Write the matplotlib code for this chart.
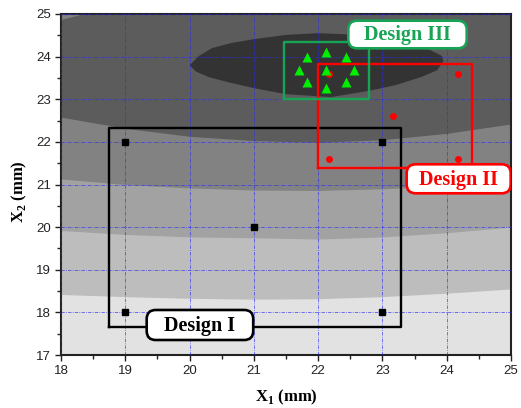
import matplotlib
matplotlib.use('Agg')
import matplotlib.pyplot as plt
from matplotlib.patches import Polygon, FancyBboxPatch
from matplotlib.ticker import MultipleLocator
import numpy as np

# contour band boundaries (X2 value at each X1)
band_x = [18, 19, 20, 21, 22, 23, 24, 25]
bound_a = [18.42, 18.37, 18.33, 18.31, 18.32, 18.37, 18.45, 18.55]
bound_b = [19.92, 19.83, 19.77, 19.75, 19.72, 19.77, 19.87, 20.00]
bound_c = [21.13, 21.00, 20.92, 20.87, 20.86, 20.90, 20.97, 21.07]
bound_d = [22.58, 22.32, 22.13, 22.03, 21.99, 22.05, 22.20, 22.42]
band_colors = ['#e2e2e2', '#bdbdbd', '#a2a2a2', '#828282', '#5c5c5c', '#333333']

# top-left corner region and the inner (optimum) contour
corner_x = [18.0, 18.0, 18.2, 18.37]
corner_y = [24.86, 25.0, 25.0, 25.0]
ell_x = [20.0, 20.15, 20.35, 20.65, 21.0, 21.5, 22.0, 22.5, 22.95, 23.4, 23.75, 23.92,
         23.95, 23.85, 23.6, 23.2, 22.8, 22.2, 21.5, 21.0, 20.6, 20.3, 20.1]
ell_y = [23.8, 24.02, 24.2, 24.32, 24.41, 24.51, 24.55, 24.52, 24.43, 24.3, 24.15, 24.02,
         23.9, 23.68, 23.52, 23.33, 23.2, 23.05, 23.12, 23.26, 23.4, 23.52, 23.65]

# design points
d1_x = [19, 23, 21, 19, 23]
d1_y = [22, 22, 20, 18, 18]
d2_x = [22.17, 24.17, 23.17, 22.17, 24.17]
d2_y = [23.6, 23.6, 22.6, 21.6, 21.6]
d3_x = [22.12, 21.82, 22.43, 21.70, 22.12, 22.55, 21.82, 22.12, 22.43]
d3_y = [24.12, 24.0, 24.0, 23.69, 23.69, 23.69, 23.40, 23.27, 23.40]

red = '#ff0000'
green = '#17a555'

plt.rcParams['mathtext.fontset'] = 'custom'
plt.rcParams['mathtext.rm'] = 'Liberation Serif:bold'
plt.rcParams['mathtext.bf'] = 'Liberation Serif:bold'

fig = plt.figure(figsize=(5.21, 4.08), dpi=100)
ax = fig.add_axes([61 / 521, 1 - 355 / 408, 450 / 521, 341 / 408])

# filled contour bands
ax.fill_between([18, 25], 17, 25, color=band_colors[0], lw=0, zorder=0)
for bound, col in zip([bound_a, bound_b, bound_c, bound_d], band_colors[1:5]):
    ax.fill_between(band_x, bound, 25, color=col, lw=0, zorder=0)
ax.add_patch(Polygon(np.column_stack([corner_x, corner_y]), closed=True,
                     fc=band_colors[3], lw=0, zorder=0))
ax.add_patch(Polygon(np.column_stack([ell_x, ell_y]), closed=True,
                     fc=band_colors[5], lw=0, zorder=0))

ax.grid(True, which='major', color='#2a2aff', lw=0.6,
        linestyle=(0, (4, 1.5, 1, 1.5)), alpha=0.75, zorder=1)
ax.set_axisbelow(False)

# design regions
ax.plot([18.74, 23.29, 23.29, 18.74, 18.74], [17.66, 17.66, 22.32, 22.32, 17.66],
        color='black', lw=1.7, zorder=3)
ax.plot([22.0, 24.4, 24.4, 22.0, 22.0], [21.38, 21.38, 23.82, 23.82, 21.38],
        color=red, lw=1.7, zorder=3)
ax.plot([21.47, 22.79, 22.79, 21.47, 21.47], [23.0, 23.0, 24.34, 24.34, 23.0],
        color=green, lw=1.7, zorder=3)

ax.plot(d1_x, d1_y, 's', color='black', ms=5, zorder=4)
ax.plot(d2_x, d2_y, 'o', color=red, ms=5, mec='none', zorder=4)
ax.plot(d3_x, d3_y, '^', color='#00ee00', ms=7, mec='none', zorder=4)

# labels of the designs
aspect = (1 / 42.625) / (1 / 64.29)
labels = [('Design I', 'black', 19.333, 17.352, 20.99, 18.056),
          ('Design II', red, 23.377, 20.794, 24.995, 21.474),
          ('Design III', green, 22.469, 24.195, 24.311, 24.843)]
for txt, col, x0, y0, x1, y1 in labels:
    box = FancyBboxPatch((x0, y0), x1 - x0, y1 - y0,
                         boxstyle='round,pad=0,rounding_size=0.14',
                         mutation_aspect=aspect, fc='white', ec=col, lw=1.9, zorder=5)
    ax.add_patch(box)
    ax.text((x0 + x1) / 2, (y0 + y1) / 2 - 0.02, txt, color=col, ha='center', va='center',
            fontsize=14.5, fontweight='bold', family='Liberation Serif', zorder=6)

ax.set_xlim(18, 25)
ax.set_ylim(17, 25)
ax.xaxis.set_major_locator(MultipleLocator(1))
ax.yaxis.set_major_locator(MultipleLocator(1))
ax.xaxis.set_minor_locator(MultipleLocator(0.5))
ax.yaxis.set_minor_locator(MultipleLocator(0.5))
ax.tick_params(which='major', direction='out', length=4, width=1, labelsize=9.5,
               colors='#222222', pad=3)
ax.tick_params(which='minor', direction='out', length=3, width=1, colors='#222222')
for lab in ax.get_xticklabels() + ax.get_yticklabels():
    lab.set_family('Liberation Sans')
for sp in ax.spines.values():
    sp.set_linewidth(1.5)
    sp.set_color('#222222')

ax.set_xlabel(r'X$_\mathrm{1}$ (mm)', fontsize=12, fontweight='bold', family='Liberation Serif')
ax.set_ylabel(r'X$_\mathrm{2}$ (mm)', fontsize=12, fontweight='bold', family='Liberation Serif')
ax.xaxis.set_label_coords(0.5, -0.095)
ax.yaxis.set_label_coords(-0.07, 0.48)

plt.savefig('out.png', dpi=100)
plt.close()
